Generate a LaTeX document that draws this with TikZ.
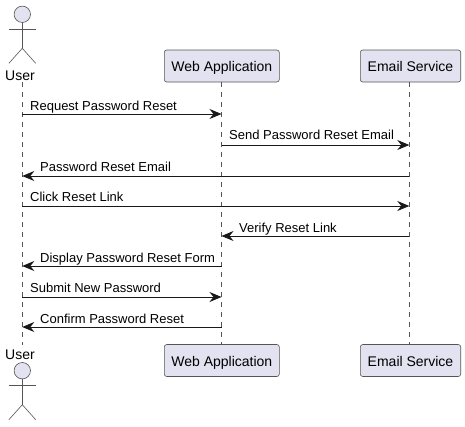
\documentclass[tikz,border=0pt]{standalone}
\usepackage{fontspec}
\setmainfont{Liberation Sans}
\usetikzlibrary{arrows.meta}
\definecolor{pbody}{HTML}{E2E2F0}
\definecolor{pline}{HTML}{181818}
\definecolor{pthin}{HTML}{555555}
\tikzset{
  x=1pt,y=-1pt,
  partbox/.style={draw=pthin,fill=pbody,line width=0.6pt,rounded corners=2.5pt,minimum height=32pt,anchor=center,inner sep=0pt,text height=12.4pt,text depth=1pt,font=\fontsize{14}{16}\selectfont},
  actorlabel/.style={inner sep=0pt,font=\fontsize{14}{16}\selectfont},
  lifeline/.style={draw=pthin,line width=0.6pt,dash pattern=on 5pt off 5pt},
  actorline/.style={draw=pthin,line width=0.6pt},
  actorhead/.style={draw=pthin,fill=pbody,line width=0.6pt},
  msg/.style={draw=pline,line width=0.8pt,-{Stealth[length=12pt,width=10pt,inset=4pt]}},
  msglabel/.style={inner sep=0pt,anchor=base west,font=\fontsize{13}{15}\selectfont},
}
\newcommand{\stick}[2]{%
  \draw[actorhead] (#1,#2) circle[radius=8.2];
  \draw[actorline] (#1,#2+8.2) -- (#1,#2+34);
  \draw[actorline] (#1-13.4,#2+15) -- (#1+13.4,#2+15);
  \draw[actorline] (#1-13.4,#2+49) -- (#1,#2+34) -- (#1+13.4,#2+49);
}
\begin{document}
\begin{tikzpicture}
\useasboundingbox (0,0) rectangle (465,426);
\fill[white] (0,0) rectangle (465,426);
\coordinate (utop) at (22.3,82);
\coordinate (ubot) at (22.3,345);
\node[partbox,minimum width=115pt] (wtop) at (221.8,66) {Web Application};
\node[partbox,minimum width=100.4pt] (etop) at (410.5,66) {Email Service};
\node[partbox,minimum width=115pt] (wbot) at (221.8,360.5) {Web Application};
\node[partbox,minimum width=100.4pt] (ebot) at (410.5,360.5) {Email Service};
\draw[lifeline] (utop) -- (ubot);
\draw[lifeline] ([xshift=-0.3pt]wtop.south) -- ([xshift=-0.3pt]wbot.north);
\draw[lifeline] ([xshift=-1.2pt]etop.south) -- ([xshift=-1.2pt]ebot.north);
\stick{22.3}{14.3}
\stick{22.3}{370.7}
\node[actorlabel] (utxt) at (20,75.5) {User};
\node[actorlabel] (ubtxt) at (20,354.5) {User};
\foreach \n/\y in {1/114,2/145,3/176,4/206,5/236,6/266,7/297,8/327}{
  \coordinate (u\n) at (22.3,\y);
  \coordinate (w\n) at (221.5,\y);
  \coordinate (e\n) at (409.3,\y);
}
\draw[msg] (u1) -- (w1);
\draw[msg] (w2) -- (e2);
\draw[msg] (e3) -- (u3);
\draw[msg] (u4) -- (e4);
\draw[msg] (e5) -- (w5);
\draw[msg] (w6) -- (u6);
\draw[msg] (u7) -- (w7);
\draw[msg] (w8) -- (u8);
\node[msglabel] (m1) at (30,110) {Request Password Reset};
\node[msglabel] (m2) at (229,139) {Send Password Reset Email};
\node[msglabel] (m3) at (40,171) {Password Reset Email};
\node[msglabel] (m4) at (30,201) {Click Reset Link};
\node[msglabel] (m5) at (239,232) {Verify Reset Link};
\node[msglabel] (m6) at (40,262) {Display Password Reset Form};
\node[msglabel] (m7) at (30,292) {Submit New Password};
\node[msglabel] (m8) at (40,323) {Confirm Password Reset};
\end{tikzpicture}
\end{document}
